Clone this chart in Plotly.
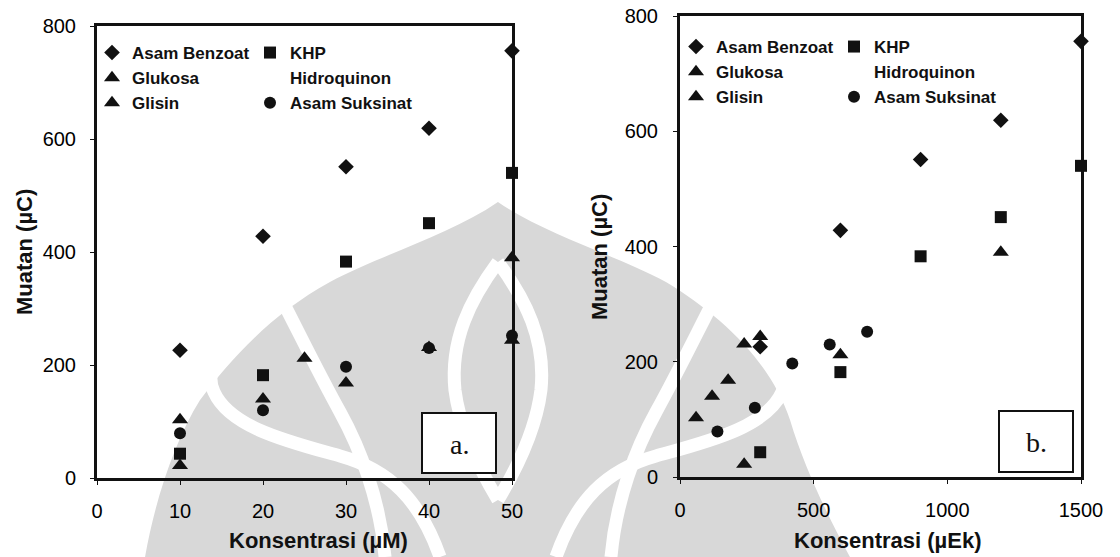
import plotly.graph_objects as go

# ---- data: panel a (x = concentration, µM) ----
conc_benzoat = [10, 20, 30, 40, 50]
muatan_benzoat = [226, 428, 551, 619, 756]
conc_khp = [10, 20, 30, 40, 50]
muatan_khp = [43, 182, 383, 451, 540]
conc_glukosa = [10, 25, 50]
muatan_glukosa = [22, 212, 390]
conc_glisin = [10, 20, 30, 40, 50]
muatan_glisin = [103, 140, 168, 231, 244]
conc_suksinat = [10, 20, 30, 40, 50]
muatan_suksinat = [79, 120, 197, 230, 252]
conc_hidroquinon = [None]
muatan_hidroquinon = [None]

# ---- data: panel b (x = equivalents, µEk) ----
ek_benzoat = [300, 600, 900, 1200, 1500]
ek_khp = [300, 600, 900, 1200, 1500]
ek_glukosa = [240, 600, 1200]
ek_glisin = [60, 120, 180, 240, 300]
ek_suksinat = [140, 280, 420, 560, 700]
ek_hidroquinon = [None]

x_ticks_a = [0, 10, 20, 30, 40, 50]
x_ticks_b = [0, 500, 1000, 1500]
y_ticks = [0, 200, 400, 600, 800]

W, H = 1120, 557
FONT = "Liberation Sans, Arial, sans-serif"
BLACK = "#111111"
WM_GREY = "#d8d8d8"


def px_x(p):
    return p / W


def px_y(p):
    return 1 - p / H


def svg_path(cmds):
    """Build an SVG path in paper units from (command, [x, y, ...]) pixel tuples."""
    out = []
    for cmd, pts in cmds:
        conv = []
        for i in range(0, len(pts), 2):
            conv.append(f"{px_x(pts[i]):.4f},{px_y(pts[i + 1]):.4f}")
        out.append(cmd + " " + " ".join(conv))
    return " ".join(out)


def mirror(cmds, cx=498):
    return [(c, [(2 * cx - v) if i % 2 == 0 else v for i, v in enumerate(p)]) for c, p in cmds]


series_a = [
    ("Asam Benzoat", conc_benzoat, muatan_benzoat, "diamond", 12, "legend"),
    ("Glukosa", conc_glukosa, muatan_glukosa, "triangle-up", 14, "legend"),
    ("Glisin", conc_glisin, muatan_glisin, "triangle-up", 14, "legend"),
    ("KHP", conc_khp, muatan_khp, "square", 12, "legend2"),
    ("Hidroquinon", conc_hidroquinon, muatan_hidroquinon, "circle", 10, "legend2"),
    ("Asam Suksinat", conc_suksinat, muatan_suksinat, "circle", 12, "legend2"),
]
series_b = [
    ("Asam Benzoat", ek_benzoat, muatan_benzoat, "diamond", 12, "legend3"),
    ("Glukosa", ek_glukosa, muatan_glukosa, "triangle-up", 14, "legend3"),
    ("Glisin", ek_glisin, muatan_glisin, "triangle-up", 14, "legend3"),
    ("KHP", ek_khp, muatan_khp, "square", 12, "legend4"),
    ("Hidroquinon", ek_hidroquinon, muatan_hidroquinon, "circle", 10, "legend4"),
    ("Asam Suksinat", ek_suksinat, muatan_suksinat, "circle", 12, "legend4"),
]

fig = go.Figure()

for series, xa, ya in ((series_a, "x", "y"), (series_b, "x2", "y2")):
    for name, xs, ys, sym, size, leg in series:
        colour = "rgba(255,255,255,0)" if name == "Hidroquinon" else BLACK
        fig.add_trace(go.Scatter(
            x=xs, y=ys, name=name, mode="markers", cliponaxis=False,
            marker=dict(symbol=sym, size=size, color=colour, line=dict(width=0)),
            xaxis=xa, yaxis=ya, legend=leg, showlegend=True,
        ))

axis_common = dict(
    showline=True, linewidth=3, linecolor=BLACK, mirror=True,
    showgrid=False, zeroline=False, ticks="outside", ticklen=4,
    tickwidth=1, tickcolor=BLACK,
    tickfont=dict(family=FONT, size=20, color="black"),
)

fig.update_layout(
    width=W, height=H,
    margin=dict(l=0, r=0, t=0, b=0),
    paper_bgcolor="white", plot_bgcolor="rgba(0,0,0,0)",
    showlegend=True,
    xaxis=dict(domain=[px_x(97), px_x(512)], range=[0, 50], tickvals=x_ticks_a,
               ticklabelstandoff=9, anchor="y", automargin=False, **axis_common),
    yaxis=dict(domain=[px_y(478), px_y(26)], range=[0, 800], tickvals=y_ticks,
               ticklabelstandoff=10, anchor="x", automargin=False, **axis_common),
    xaxis2=dict(domain=[px_x(680), px_x(1081)], range=[0, 1500], tickvals=x_ticks_b,
                ticklabelstandoff=9, anchor="y2", automargin=False, **axis_common),
    yaxis2=dict(domain=[px_y(477), px_y(16)], range=[0, 800], tickvals=y_ticks,
                ticklabelstandoff=11, anchor="x2", automargin=False, **axis_common),
)

legend_common = dict(
    xref="paper", yref="paper", xanchor="left", yanchor="top",
    bgcolor="rgba(0,0,0,0)", borderwidth=0, orientation="v",
    font=dict(family=FONT, size=17, color=BLACK, weight="bold"),
    itemclick=False, itemdoubleclick=False, tracegroupgap=0,
)
fig.update_layout(
    legend=dict(x=px_x(92), y=px_y(35), **legend_common),
    legend2=dict(x=px_x(250), y=px_y(35), **legend_common),
    legend3=dict(x=px_x(676), y=px_y(29), **legend_common),
    legend4=dict(x=px_x(834), y=px_y(29), **legend_common),
)

# faint background emblem (grey body with white curved stripes)
emblem_body = [
    ("M", [498, 202]),
    ("C", [450, 235, 380, 255, 330, 282]),
    ("C", [270, 315, 230, 360, 200, 400]),
    ("C", [175, 440, 155, 500, 145, 557]),
    ("L", [850, 557]),
    ("C", [830, 520, 805, 470, 790, 420]),
    ("C", [770, 360, 720, 315, 666, 282]),
    ("C", [616, 255, 546, 235, 498, 202]),
    ("Z", []),
]
fig.add_shape(type="path", path=svg_path(emblem_body), xref="paper", yref="paper",
              fillcolor=WM_GREY, line=dict(width=0), layer="below")

stripes = [
    # curl on the flank
    [("M", [290, 296]), ("C", [235, 322, 200, 362, 214, 392]),
     ("C", [230, 428, 290, 442, 340, 456]), ("C", [390, 470, 420, 500, 440, 557])],
    # inner leaf outline
    [("M", [282, 300]), ("C", [300, 335, 318, 372, 340, 412]),
     ("C", [360, 448, 380, 500, 385, 557])],
    # central flame outline
    [("M", [498, 262]), ("C", [470, 300, 450, 340, 455, 390]),
     ("C", [460, 430, 480, 470, 498, 500])],
]
for s in stripes:
    for variant in (s, mirror(s)):
        fig.add_shape(type="path", path=svg_path(variant), xref="paper", yref="paper",
                      line=dict(color="white", width=13), fillcolor="rgba(0,0,0,0)",
                      layer="below")

# axis titles
title_font = dict(family=FONT, size=22, color=BLACK, weight="bold")
for txt, x, y, ang in (
    ("Konsentrasi (µM)", 318, 540, 0),
    ("Konsentrasi (µEk)", 888, 540, 0),
    ("Muatan (µC)", 24, 252, -90),
    ("Muatan (µC)", 599, 257, -90),
):
    fig.add_annotation(text=txt, x=px_x(x), y=px_y(y), xref="paper", yref="paper",
                       showarrow=False, textangle=ang, font=title_font,
                       xanchor="center", yanchor="middle")

# panel labels in framed boxes
for label, x0, y0, x1, y1 in (("a.", 422, 413, 496, 473), ("b.", 999, 411, 1073, 472)):
    fig.add_shape(type="rect", xref="paper", yref="paper",
                  x0=px_x(x0), x1=px_x(x1), y0=px_y(y1), y1=px_y(y0),
                  line=dict(color=BLACK, width=2), fillcolor="white", layer="below")
    fig.add_annotation(text=label, x=px_x((x0 + x1) / 2), y=px_y((y0 + y1) / 2 + 1),
                       xref="paper", yref="paper", showarrow=False,
                       font=dict(family="Liberation Serif, Times New Roman, serif",
                                 size=28, color=BLACK),
                       xanchor="center", yanchor="middle")

fig.write_html("out.html")
